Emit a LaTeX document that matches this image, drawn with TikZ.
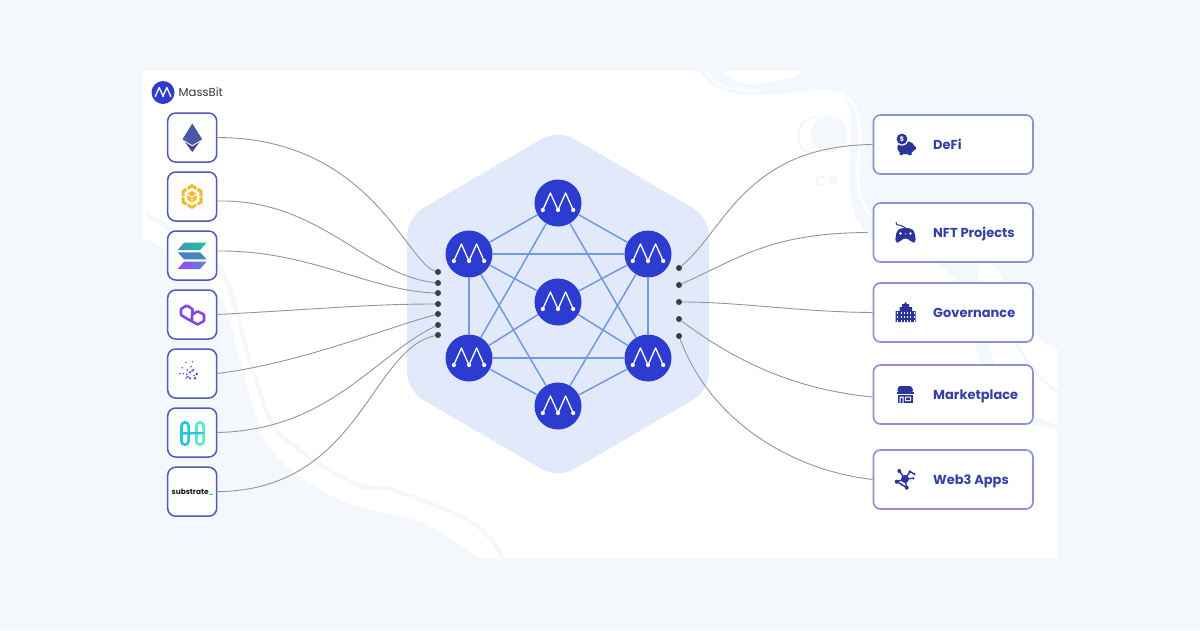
\documentclass[tikz,border=0pt]{standalone}
\usepackage{fontspec}
\setmainfont{Poppins}
\usetikzlibrary{calc}
\definecolor{pagebg}{HTML}{F4F7FC}
\definecolor{hexbg}{HTML}{E2E9FB}
\definecolor{nodeblue}{HTML}{2C3BD0}
\definecolor{edgeblue}{HTML}{7099DF}
\definecolor{wire}{HTML}{959595}
\definecolor{dotgrey}{HTML}{3E3E3E}
\definecolor{leftborder}{HTML}{4F59B8}
\definecolor{rightborder}{HTML}{8A93D4}
\definecolor{labelblue}{HTML}{3540A6}
\definecolor{iconblue}{HTML}{2B3499}
\definecolor{ethup}{HTML}{4A56A6}
\definecolor{ethlow}{HTML}{3E4A96}
\definecolor{bnb}{HTML}{F3BA2F}
\definecolor{solA}{HTML}{4A90B8}
\definecolor{solB}{HTML}{14C896}
\definecolor{solC}{HTML}{4A7FC4}
\definecolor{solD}{HTML}{3F8CB8}
\definecolor{solE}{HTML}{9945F5}
\definecolor{solF}{HTML}{5A8AD0}
\definecolor{polyviolet}{HTML}{8247E5}
\definecolor{dotblue}{HTML}{3C4BD7}
\definecolor{harmA}{HTML}{25C5E0}
\definecolor{harmB}{HTML}{5EE8C8}
\definecolor{subgreen}{HTML}{1ED296}
\tikzset{
  netnode/.style={circle,fill=nodeblue,draw=none,minimum size=47pt,inner sep=0pt},
  netedge/.style={draw=edgeblue,line width=1.5pt},
  wireline/.style={draw=wire,line width=0.9pt},
  portdot/.style={circle,fill=dotgrey,draw=none,minimum size=6pt,inner sep=0pt},
  leftbox/.style={draw=leftborder,fill=white,line width=1.5pt,rounded corners=8pt,minimum width=49pt,minimum height=49pt,inner sep=0pt},
  rightbox/.style={draw=rightborder,fill=white,line width=1.7pt,rounded corners=7pt,minimum width=159.5pt,minimum height=59pt,inner sep=0pt},
  applabel/.style={anchor=base west,inner sep=0pt,text=labelblue,font=\fontsize{13pt}{15pt}\selectfont\bfseries},
  paleline/.style={draw=pagebg,line width=4pt},
  mglyph/.pic={
    \draw[white,line width=1.3pt,line join=round] (-15.2,7)--(-7.6,-10)--(0,7)--(7.6,-10)--(15.2,7);
    \fill[white] (-15.2,7) circle (2.1) (0,7) circle (2.1) (15.2,7) circle (2.1);
  }
}
\begin{document}
\begin{tikzpicture}[x=1pt,y=-1pt]
\useasboundingbox (0,0) rectangle (1200,630);
\fill[pagebg] (0,0) rectangle (1200,630);
\fill[white] (143,71) rectangle (1058,558);
% background swirls
\begin{scope}
\clip (143,71) rectangle (1058,558);
\fill[pagebg] plot[smooth,tension=.6] coordinates {(143,238)(183,260)(223,303)(247,387)(273,453)(340,500)(423,523)(477,558)} -- (143,558) -- cycle;
\draw[paleline] plot[smooth,tension=.6] coordinates {(146,213)(185,240)(223,273)(253,370)(280,433)(353,483)(393,490)(473,523)(503,558)};
\fill[pagebg] (700,71) .. controls (712,90) and (730,96) .. (760,95)
  .. controls (800,93) and (825,88) .. (840,92)
  .. controls (852,100) and (853,125) .. (850,160)
  .. controls (848,190) and (852,225) .. (873,240)
  -- (933,262) .. controls (962,275) and (965,300) .. (970,320)
  .. controls (978,370) and (1000,410) .. (1030,424)
  -- (1058,430) -- (1058,71) -- cycle;
\fill[white] (723,71) .. controls (732,82) and (745,86) .. (760,83) .. controls (780,80) and (795,80) .. (803,71) -- cycle;
\draw[white,line width=1.6pt] (705,71) .. controls (716,88) and (735,91) .. (760,90);
\draw[white,line width=2.5pt] (838,92) .. controls (860,100) and (862,125) .. (858,160) .. controls (856,185) and (860,205) .. (873,217);
\fill[white] (980,264) .. controls (992,262) and (1002,270) .. (1003,285)
  .. controls (1006,310) and (1025,335) .. (1058,350) -- (1058,425)
  .. controls (1020,415) and (995,380) .. (985,330) .. controls (983,310) and (975,280) .. (980,264) -- cycle;
\draw[paleline,line width=3pt] (1000,300) .. controls (1006,330) and (1030,375) .. (1058,392);
\fill[pagebg] (829,134) circle (18.5);
\draw[pagebg,line width=2.5pt] (817,117) .. controls (794,118) and (792,150) .. (812,153);
\fill[pagebg] (833,180) circle (5.2);
\draw[pagebg,line width=2.5pt] (821,181) circle (4.5);
\end{scope}
% hexagon
\fill[hexbg,rounded corners=18pt] (558,129.5) -- (709,217.5) -- (709,390.5) -- (558,478.5) -- (407,390.5) -- (407,217.5) -- cycle;
% network
\node[netnode] (n1) at (558,203) {};
\node[netnode] (n2) at (469,254) {};
\node[netnode] (n3) at (648,254) {};
\node[netnode] (n4) at (558,302) {};
\node[netnode] (n5) at (469,358) {};
\node[netnode] (n6) at (648,358) {};
\node[netnode] (n7) at (558,406) {};
\foreach \a/\b in {n1/n2,n1/n3,n2/n3,n2/n5,n3/n6,n5/n6,n5/n7,n6/n7,n4/n2,n4/n3,n4/n5,n4/n6,n1/n5,n1/n6,n7/n2,n7/n3}
  \draw[netedge] (\a) -- (\b);
\foreach \n in {n1,n2,n3,n4,n5,n6,n7} \pic at (\n) {mglyph};
% ports
\node[portdot] (dl1) at (438,272) {};
\node[portdot] (dl2) at (438,283) {};
\node[portdot] (dl3) at (438,293) {};
\node[portdot] (dl4) at (438,304) {};
\node[portdot] (dl5) at (438,314) {};
\node[portdot] (dl6) at (438,325) {};
\node[portdot] (dl7) at (438,335) {};
\node[portdot] (dr1) at (679,268) {};
\node[portdot] (dr2) at (679,285) {};
\node[portdot] (dr3) at (679,302) {};
\node[portdot] (dr4) at (679,319) {};
\node[portdot] (dr5) at (679,336) {};
% boxes
\node[leftbox] (l1) at (192.2,137.5) {};
\node[leftbox] (l2) at (192.2,196.5) {};
\node[leftbox] (l3) at (192.2,255.5) {};
\node[leftbox] (l4) at (192.2,314.5) {};
\node[leftbox] (l5) at (192.2,373.5) {};
\node[leftbox] (l6) at (192.2,432.5) {};
\node[leftbox] (l7) at (192.2,491.7) {};
\node[rightbox] (r1) at (953.2,144.5) {};
\node[rightbox] (r2) at (953.2,232.5) {};
\node[rightbox] (r3) at (953.2,312.5) {};
\node[rightbox] (r4) at (953.2,394.5) {};
\node[rightbox] (r5) at (953.2,479.5) {};
% connectors
\draw[wireline] (l1.east) .. controls (370,138) and (406,262) .. (dl1);
\draw[wireline] ([yshift=-4.5pt]l2.east) .. controls (320,199) and (365,275) .. (dl2);
\draw[wireline] ([yshift=4.5pt]l3.east) .. controls (310,250) and (370,291) .. (dl3);
\draw[wireline] (l4.east) .. controls (320,309) and (370,304) .. (dl4);
\draw[wireline] (l5.east) .. controls (300,363) and (380,330) .. (dl5);
\draw[wireline] (l6.east) .. controls (330,430) and (375,355) .. (dl6);
\draw[wireline] (l7.east) .. controls (360,490) and (370,350) .. (dl7);
\draw[wireline] (dr1) .. controls (725,230) and (745,146) .. (r1.west);
\draw[wireline,shorten >=5pt] (dr2) .. controls (740,258) and (770,233) .. (r2.west);
\draw[wireline] (dr3) .. controls (740,302) and (800,312) .. (r3.west);
\draw[wireline] (dr4) .. controls (740,365) and (800,390) .. ([yshift=-2.5pt]r4.west);
\draw[wireline] (dr5) .. controls (710,420) and (790,470) .. (r5.west);
% logo
\node[circle,fill=nodeblue,minimum size=23pt,inner sep=0pt] (logo) at (163,92.5) {};
\pic[scale=.5] at (logo) {mglyph};
\node[anchor=base west,inner sep=0pt,text=black!78,font=\fontsize{11.6pt}{14pt}\selectfont] (brand) at (178.5,96.5) {MassBit};
% ethereum
\fill[ethup] (192.3,123.5) -- (202,139) -- (192.3,145) -- (182.6,139) -- cycle;
\fill[ethlow] (182.6,139) -- (192.3,145) -- (202,139) -- (192.3,152) -- cycle;
\draw[white,line width=.8pt] (183.5,140.6) -- (192.3,145.8) -- (201.1,140.6);
% bnb
\fill[bnb] (181.5,190.5) -- (192,184) -- (202.5,190.5) -- (202.5,203) -- (192,209) -- (181.5,203) -- cycle;
\fill[white] (184.6,192.3) -- (192,187.7) -- (199.4,192.3) -- (199.4,201.3) -- (192,205.6) -- (184.6,201.3) -- cycle;
\fill[bnb] (187.3,193.8) -- (192,191) -- (196.7,193.8) -- (196.7,199.8) -- (192,202.7) -- (187.3,199.8) -- cycle;
\draw[white,line width=.9pt] (187.3,194.2) -- (192,197) -- (196.7,194.2) (192,197) -- (192,203);
\draw[white,line width=.9pt] (181,196.7) -- (185,196.7) (199,196.7) -- (203,196.7) (186,186.5) -- (188,190.5) (198,186.5) -- (196,190.5) (186,207) -- (188,203) (198,207) -- (196,203);
% solana
\shade[left color=solA,right color=solB] (184,242.7) -- (206.7,242.7) -- (200,250) -- (177.7,250) -- cycle;
\shade[left color=solC,right color=solD] (177.7,252.3) -- (200,252.3) -- (206.7,259.3) -- (184,259.3) -- cycle;
\shade[left color=solE,right color=solF] (184,261.7) -- (206.7,261.7) -- (200,269) -- (177.7,269) -- cycle;
% polygon
\draw[polyviolet,line width=2.6pt,line join=round,rounded corners=.6pt]
  (192.5,315) -- (192.5,309) -- (186.7,305.5) -- (181,309) -- (181,315) -- (186.7,318.5) -- (197.7,324.5) -- (204,321) -- (204,314.5) -- (197.7,311.3) -- (192,314.7) -- (192,320.5);
% dots
\foreach \x/\y/\r in {186/362.3/.8,192.3/361.7/.8,182.3/367.7/.8,191/366.7/.8,187.3/370/.9,193.3/370/1.1,180/373.7/.8,183.3/373.7/.8,186.7/374.3/.9,190/372.3/1.2,196.7/374/1.4,187.7/376.7/1.1,194/375.7/.8,186/378/.8,190/378.3/1.3,195/378.3/1.4,192/371/.9}
  \fill[dotblue] (\x,\y) circle (\r);
% harmony
\draw[harmA,line width=2.7pt,rounded corners=3.5pt] (181.4,422.4) rectangle (188.6,444.6);
\draw[harmB,line width=2.7pt,rounded corners=3.5pt] (196.4,422.4) rectangle (203.6,444.6);
\draw[harmA,line width=2.4pt] (181.4,433.5) -- (203.6,433);
% substrate
\node[anchor=base west,inner sep=0pt,font=\fontsize{7.4pt}{8pt}\selectfont\bfseries,text=black!90] (sub) at (171.5,494.5) {substrate};
\draw[subgreen,line width=1pt] (209,494.5) -- (213,494.5);
% right labels
\node[applabel] (t1) at (933,149) {DeFi};
\node[applabel] (t2) at (933,237) {NFT Projects};
\node[applabel] (t3) at (933,317) {Governance};
\node[applabel] (t4) at (933,399) {Marketplace};
\node[applabel] (t5) at (933,484) {Web3 Apps};
% piggy
\fill[iconblue] (906,147.7) ellipse (8.7 and 6.6);
\fill[iconblue] (914.2,148) circle (2);
\fill[iconblue] (899.5,150) rectangle (903,155) (908,150) rectangle (911.5,155);
\fill[white] (902,139) circle (6.6);
\fill[iconblue] (902,139) circle (5.4);
\node[inner sep=0pt,text=white,font=\fontsize{6.5pt}{7pt}\selectfont\bfseries] (coin) at (902,139) {\$};
% gamepad
\draw[iconblue,line width=1pt,line join=round] (896,222) .. controls (896,227) and (900,224) .. (902,226) .. controls (903,228) and (906,226) .. (906,229);
\fill[iconblue,rounded corners=3pt] (895,242.5) -- (896.5,231) -- (901,228) -- (910,228) -- (914.5,231) -- (916,242.5) -- (911.5,242.5) -- (908.5,238.5) -- (902.5,238.5) -- (899.5,242.5) -- cycle;
\fill[white] (900.5,233.5) circle (1.3) (910.5,233.5) circle (1.3) (905.5,234) circle (.7);
% building
\fill[iconblue] (895.5,311) rectangle (899.5,322) (912,311) rectangle (915.5,322) (899.5,307) rectangle (912,322) (902,304) rectangle (909,308);
\fill[iconblue] (905.5,302) -- (907.5,305) -- (903.5,305) -- cycle;
\foreach \x in {897,901,904,907,910,913.5} \foreach \y in {312,316,319.5} \fill[white] (\x,\y) rectangle ++(.8,2);
% store
\fill[iconblue,rounded corners=1.5pt] (898.5,386) -- (911.5,386) -- (913.5,392) -- (897,392) -- cycle;
\fill[iconblue] (897,392) rectangle (913.5,393.5);
\fill[iconblue] (897.5,394.5) rectangle (913,403);
\fill[white] (899.5,396.5) rectangle (903.5,403) (905,396.5) rectangle (911,401);
\fill[iconblue] (900.5,398) rectangle (902.5,403) (906,397.5) rectangle (910,400);
% network
\draw[iconblue,line width=1.4pt] (905,479) -- (899.3,471) (905,479) -- (910,471.7) -- (914.3,474) (905,479) -- (896.7,481.7) (905,479) -- (906.7,487.7) (905,479) -- (913.3,478.3) (896.7,481.7) -- (901.7,484.5) -- (906.7,487.7);
\fill[iconblue] (905,479) circle (4) (899.3,471) circle (2) (910,471.7) circle (1.6) (914.3,474) circle (1.3) (896.7,481.7) circle (2) (906.7,487.7) circle (2) (913.3,478.3) circle (1.2) (901.7,484.5) circle (1.1);
\end{tikzpicture}
\end{document}
